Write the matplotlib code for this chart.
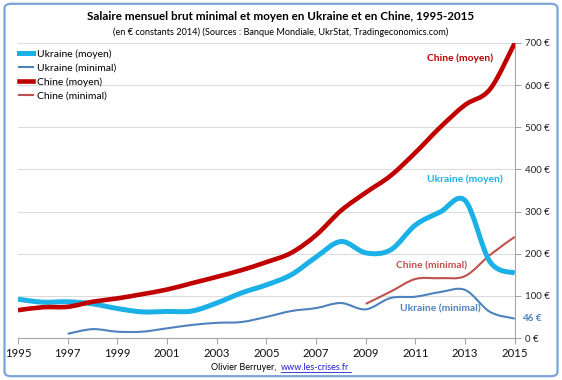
import matplotlib
matplotlib.use('Agg')
import matplotlib.pyplot as plt
import numpy as np
from matplotlib.path import Path
from matplotlib.patches import PathPatch, FancyBboxPatch
from matplotlib.lines import Line2D

plt.rcParams['font.family'] = ['Lato', 'DejaVu Sans']

years = list(range(1995, 2016))
ukraine_moyen = [92, 85, 86, 81, 70, 62, 63, 64, 83, 107, 126, 150, 192, 229, 202, 209, 268, 299, 326, 181, 154]
ukraine_minimal = [None, None, 10, 21, 15, 15, 23, 31, 36, 38, 50, 64, 71, 83, 68, 95, 98, 109, 114, 62, 46]
chine_moyen = [66, 73, 74, 86, 94, 104, 115, 130, 145, 161, 180, 202, 244, 302, 345, 385, 440, 500, 553, 590, 700]
chine_minimal = [None] * 14 + [81, 110, 140, 142, 147, 197, 240]

y_ticks = [0, 100, 200, 300, 400, 500, 600, 700]
x_ticks = list(range(1995, 2016, 2))

C_UKR_MOY = '#1BB1E6'
C_UKR_MIN = '#4F81BD'
C_CHN_MOY = '#C00000'
C_CHN_MIN = '#C0504D'


def smooth_path(xs, ys):
    # excel-like smoothed line: catmull-rom segments as cubic beziers
    pts = [(x, y) for x, y in zip(xs, ys) if y is not None]
    p = np.array(pts, dtype=float)
    n = len(p)
    verts = [tuple(p[0])]
    codes = [Path.MOVETO]
    for i in range(n - 1):
        p0 = p[i - 1] if i > 0 else p[i]
        p1 = p[i]
        p2 = p[i + 1]
        p3 = p[i + 2] if i + 2 < n else p[i + 1]
        c1 = p1 + (p2 - p0) / 6
        c2 = p2 - (p3 - p1) / 6
        verts += [tuple(c1), tuple(c2), tuple(p2)]
        codes += [Path.CURVE4] * 3
    return Path(verts, codes)


def draw(ax, ys, color, lw):
    patch = PathPatch(smooth_path(years, ys), facecolor='none', edgecolor=color,
                      linewidth=lw, capstyle='butt', joinstyle='round', zorder=3)
    ax.add_patch(patch)


fig = plt.figure(figsize=(5.62, 3.80), dpi=100)
ax = fig.add_axes([0.032, 0.1105, 0.884, 0.7765])

fig.patches.append(FancyBboxPatch((0.008, 0.01), 0.984, 0.98, boxstyle='round,pad=0,rounding_size=0.012',
                                  transform=fig.transFigure, facecolor='none',
                                  edgecolor='#7BA3D6', linewidth=1.6))

draw(ax, ukraine_minimal, C_UKR_MIN, 1.5)
draw(ax, chine_minimal, C_CHN_MIN, 1.5)
draw(ax, ukraine_moyen, C_UKR_MOY, 3.6)
draw(ax, chine_moyen, C_CHN_MOY, 3.3)

ax.set_xlim(1995, 2015)
ax.set_ylim(0, 700)

ax.yaxis.tick_right()
ax.set_yticks(y_ticks)
ax.set_yticklabels([f'{v} €' for v in y_ticks])
ax.set_xticks(x_ticks)
ax.set_xticklabels([str(v) for v in x_ticks])
ax.tick_params(axis='y', length=4, width=0.8, color='#A6A6A6', labelsize=7, pad=3, labelcolor='#222222')
ax.tick_params(axis='x', length=4, width=0.8, color='#A6A6A6', labelsize=8.2, pad=3, labelcolor='#111111')
ax.grid(axis='y', color='#DCDCDC', linewidth=0.8)
ax.set_axisbelow(True)
for side in ['top', 'left']:
    ax.spines[side].set_visible(False)
ax.spines['right'].set_color('#A6A6A6')
ax.spines['bottom'].set_color('#A6A6A6')
ax.set_facecolor('none')

# labels inside the plot
ax.text(2012.8, 663, 'Chine (moyen)', color=C_CHN_MOY, fontsize=7.4, fontweight='bold', ha='center', va='center')
ax.text(2013.0, 377, 'Ukraine (moyen)', color=C_UKR_MOY, fontsize=7.4, fontweight='bold', ha='center', va='center')
ax.text(2011.65, 171, 'Chine (minimal)', color=C_CHN_MIN, fontsize=7.4, fontweight='bold', ha='center', va='center')
ax.text(2012.0, 68, 'Ukraine (minimal)', color=C_UKR_MIN, fontsize=7.4, fontweight='bold', ha='center', va='center')
ax.text(2015.28, 47, '46 €', color=C_UKR_MIN, fontsize=7.2, fontweight='bold', ha='left', va='center',
        clip_on=False)

handles = [Line2D([], [], color=C_UKR_MOY, lw=3.6),
           Line2D([], [], color=C_UKR_MIN, lw=1.5),
           Line2D([], [], color=C_CHN_MOY, lw=3.3),
           Line2D([], [], color=C_CHN_MIN, lw=1.5)]
ax.legend(handles, ['Ukraine (moyen)', 'Ukraine (minimal)', 'Chine (moyen)', 'Chine (minimal)'],
          loc='upper left', bbox_to_anchor=(-0.01, 1.0), frameon=False, fontsize=7.5,
          handlelength=1.3, handletextpad=0.4, labelspacing=0.45, borderaxespad=0.2)

fig.text(0.5, 0.956, 'Salaire mensuel brut minimal et moyen en Ukraine et en Chine, 1995-2015',
         ha='center', va='center', fontsize=8.4, fontweight='bold')
fig.text(0.5, 0.914, '(en € constants 2014) (Sources : Banque Mondiale, UkrStat, Tradingeconomics.com)',
         ha='center', va='center', fontsize=6.6)

fig.text(0.5, 0.032, 'Olivier Berruyer,  ', ha='right', va='center', fontsize=6.5)
fig.text(0.5, 0.032, 'www.les-crises.fr', ha='left', va='center', fontsize=6.5, color='#1F1FCC')
fig.add_artist(Line2D([0.5, 0.5 + 0.125], [0.021, 0.021], transform=fig.transFigure,
                      color='#1F1FCC', lw=0.6))

fig.savefig('out.png', dpi=100)
